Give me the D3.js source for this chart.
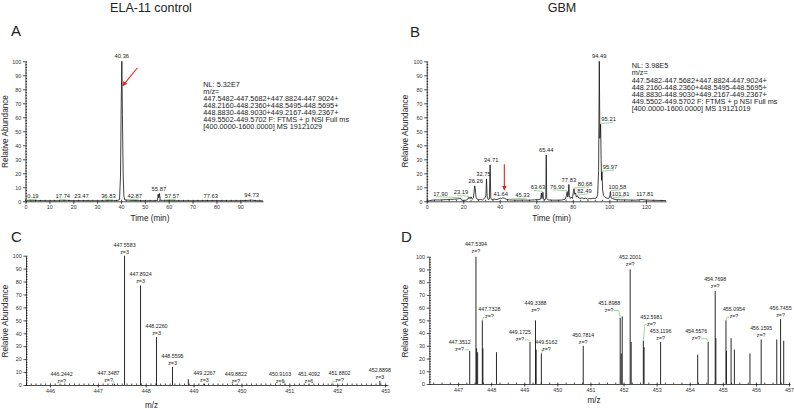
<!DOCTYPE html>
<html>
<head>
<meta charset="utf-8">
<script src="https://cdn.jsdelivr.net/npm/d3@7"></script>
<style>
  body { margin: 0; background: #fff; }
  svg text { font-family: "Liberation Sans", Arial, sans-serif; fill: #222; }
</style>
</head>
<body>
<div id="chart"></div>
<script>
// ---- panel A: ELA-11 control chromatogram
var ctrlTrace = [[0,0.6],[2,0.4],[5,0.5],[10,0.4],[15,0.4],[17.74,0.6],[20,0.4],[23.47,0.5],[28,0.4],[33,0.4],
  [36.83,0.6],[38.5,0.6],[39.4,1.2],[39.8,18],[40.1,70],[40.36,100],[40.6,62],[40.9,20],[41.2,4],[41.6,1],
  [42.87,0.8],[46,0.5],[50,0.4],[54,0.4],[55.3,0.6],[55.6,5.2],[55.87,2.5],[56.15,5.5],[56.45,0.7],[57.57,0.6],
  [62,0.4],[70,0.4],[77.63,0.5],[85,0.4],[90,0.4],[94.73,0.8],[97,0.4],[99.5,0.3]];
var ctrlPeaks = [[0.19,0.3],[17.74,0.3],[23.47,0.3],[36.83,0.3],[40.36,100],[42.87,0.3],[55.87,5.5],[57.57,0.3],[77.63,0.3],[94.73,1.2]];
var ctrlShift = [7,-5,0,-5,0,7,0,9,0,0];
var ctrlNote = ["NL: 5.32E7", "m/z=", "447.5482-447.5682+447.8824-447.9024+", "448.2160-448.2360+448.5495-448.5695+",
  "448.8830-448.9030+449.2167-449.2367+", "449.5502-449.5702 F: FTMS + p NSI Full ms", "[400.0000-1600.0000]  MS 19121029"];

// ---- panel B: GBM chromatogram
var gbmTrace = [[0,0],[1,0.3],[3,0.8],[5,1],[7,0.9],[9,1.1],[11,1.2],[13,1.3],[15,1.5],[17,1.7],[17.9,2],[18.6,2.3],[19.1,0.8],
  [20,0.6],[21.5,0.8],[22.5,1.5],[23.19,3],[23.7,1.8],[24.3,3.2],[24.9,1.5],[25.5,2.2],[25.9,6],[26.26,11],[26.6,9],[27,3],
  [27.6,1.5],[28.5,1],[29.5,1.4],[30.5,0.9],[31.3,1.8],[31.9,2.5],[32.4,4],[32.75,16],[33.1,3],[33.7,1.2],[34.3,1.6],[34.71,26],
  [35.1,2],[35.8,1.2],[37,1.5],[38.5,1.2],[39.5,1.8],[40.5,2.2],[41.2,2],[41.64,2.5],[42.5,2.2],[43.5,1.5],[44.5,1.2],[45.33,1],
  [47,0.9],[50,0.8],[53,0.9],[56,0.8],[59,1],[61,1.2],[62.4,1.5],[62.8,6],[63.1,2],[63.63,6.5],[63.9,1.5],[64.8,1],[65.2,3],
  [65.44,33],[65.7,2],[66.5,1],[69,0.8],[72,0.8],[74,0.9],[75.8,1.5],[76.5,4],[76.9,7],[77.2,3],[77.5,4],[77.83,12],[78.1,4],
  [78.6,2],[79.2,3],[79.8,2],[80.3,7],[80.68,9],[81,5],[81.5,6],[81.9,3],[82.49,4],[83.2,2.5],[84,2],[85,2.5],[86,1.8],[87,2.2],
  [88,1.6],[89,2],[90,1.8],[91,2.2],[92,2],[93,2.5],[93.6,5],[94.1,22],[94.49,100],[94.8,45],[95,50],[95.21,55],[95.5,30],
  [95.7,15],[95.97,21],[96.3,8],[96.8,4],[97.5,3],[98.3,2.5],[99.2,2],[100,2.5],[100.3,4],[100.58,7],[100.9,2.5],[101.4,2],
  [101.81,2],[102.5,1.5],[104,1.2],[106,1],[108,1],[111,0.9],[114,0.8],[116,1],[117.81,1.3],[119,1],[122,0.8],[125,0.7],
  [128,0.6],[131,0.5]];
var gbmPeaks = [[17.90,2],[23.19,3],[26.26,11],[32.75,16],[34.71,26],[41.64,2],[45.33,1],[63.63,6.5],[65.44,33],[76.90,7],
  [77.83,12],[80.68,9],[82.49,4],[94.49,100],[95.21,55],[95.97,21],[100.58,7],[101.81,2],[117.81,1.3]];
var gbmShift = [-19,-8,1,-3,1,-2,13,-5,0,-10,0,11,7,0,8,8,7,8,3];
var gbmNote = ["NL: 3.98E5", "m/z=", "447.5482-447.5682+447.8824-447.9024+", "448.2160-448.2360+448.5495-448.5695+",
  "448.8830-448.9030+449.2167-449.2367+", "449.5502-449.5702 F: FTMS + p NSI Full ms", "[400.0000-1600.0000]  MS 19121019"];

// ---- panel C: control mass spectrum
var ctrlMz = [446.2442,447.3487,447.5583,447.8924,448.2260,448.5595,448.8900,449.2267,449.8822,450.9103,451.4092,451.8802,452.8898];
var ctrlInt = [0.2,0.8,100,77,37,14,4.5,1,0.3,0.3,0.3,0.4,3];
var ctrlZ = ["?","?","3","3","3","3",null,"3","?","6","6","?","3"];
var ctrlMzShift = [0,-6,0,0,0,0,0,0,0,-5,0,8,0];

// ---- panel D: GBM mass spectrum (labelled peaks, then unlabelled ones)
var gbmMz = [447.3512,447.5394,447.7328,449.1725,449.3388,449.5162,450.7814,451.8988,452.2001,452.5981,453.1196,
  454.5576,454.7698,455.0954,456.1595,456.7455];
var gbmInt = [26,100,50,33,50,24,30,52,90,34,33,33,73,50,35,51];
var gbmMzShift = [[-10,2],[0,-2],[7,0],[-10,1],[0,-6],[5,0],[0,0],[-11,-4],[0,-1],[8,-13],[0,0],[-12,0],[0,-1],[8,0],[0,0],[0,0]];
var gbmMinorMz = [447.56,447.59,447.75,448.16,449.36,451.93,451.96,452.23,452.62,454.24,454.79,455.11,455.25,455.35,455.82,456.63,456.84];
var gbmMinorInt = [28,25,28,25,27,24,53,33,29,23,36,26,36,27,24,35,34];

var yTicks = d3.range(0, 101, 10);

var width = 794, height = 409;
var svg = d3.select("#chart").append("svg")
  .attr("width", width).attr("height", height);

var defs = svg.append("defs");
defs.append("marker").attr("id", "redhead")
  .attr("viewBox", "0 0 10 10").attr("refX", 9).attr("refY", 5)
  .attr("markerWidth", 5).attr("markerHeight", 5).attr("markerUnits", "userSpaceOnUse")
  .attr("orient", "auto")
  .append("path").attr("d", "M0,0 L10,5 L0,10 Z").attr("fill", "#e3241c");

function stepRange(dom, step) {
  var a = Math.ceil(dom[0] / step - 1e-9), b = Math.floor(dom[1] / step + 1e-9);
  return d3.range(a, b + 1).map(function(i) { return +(i * step).toFixed(4); });
}

function styleAxis(sel) {
  sel.attr("font-family", "Liberation Sans, Arial, sans-serif").attr("font-size", 5.4);
  sel.selectAll("path, line").attr("stroke", "#000").attr("stroke-width", 0.7);
  sel.selectAll("text").style("fill", "#333");
}

// frame of one panel: scales, axes, titles
function panel(o) {
  var x = d3.scaleLinear().domain(o.xDomain).range([o.left, o.right]);
  var y = d3.scaleLinear().domain([0, 100]).range([o.bottom, o.top]);
  var g = svg.append("g");

  g.append("g").attr("transform", "translate(0," + o.bottom + ")")
    .call(d3.axisBottom(x).tickValues(stepRange(o.xDomain, o.xMinor)).tickSize(-1.5).tickSizeOuter(0).tickFormat(""))
    .call(styleAxis).call(function(a) { a.select(".domain").remove(); });
  g.append("g").attr("transform", "translate(0," + o.bottom + ")")
    .call(d3.axisBottom(x).tickValues(o.xTicks).tickSize(2.5).tickSizeOuter(0).tickPadding(1.5).tickFormat(d3.format("d")))
    .call(styleAxis);

  g.append("g").attr("transform", "translate(" + o.left + ",0)")
    .call(d3.axisLeft(y).tickValues(stepRange([0, 100], 2)).tickSize(-1.5).tickSizeOuter(0).tickFormat(""))
    .call(styleAxis).call(function(a) { a.select(".domain").remove(); });
  g.append("g").attr("transform", "translate(" + o.left + ",0)")
    .call(d3.axisLeft(y).tickValues(yTicks).tickSize(2.5).tickSizeOuter(0).tickPadding(1.8))
    .call(styleAxis);

  g.append("text").attr("transform", "translate(" + o.yTitle[0] + "," + o.yTitle[1] + ") rotate(-90)")
    .attr("text-anchor", "middle").attr("font-size", 8.2).text("Relative Abundance");
  g.append("text").attr("x", o.xTitle[0]).attr("y", o.xTitle[1])
    .attr("text-anchor", "middle").attr("font-size", 8.2).text(o.xLabel);
  g.append("text").attr("x", o.letter[0]).attr("y", o.letter[1])
    .attr("font-family", "Open Sans, sans-serif").attr("font-size", 15).text(o.name);

  return { g: g, x: x, y: y };
}

function chromatogram(p, trace, peaks, shift, note, notePos, arrow) {
  var line = d3.line().x(function(d) { return p.x(d[0]); }).y(function(d) { return p.y(d[1]); });
  p.g.append("path").datum(trace).attr("d", line)
    .attr("fill", "none").attr("stroke", "#111").attr("stroke-width", 0.8).attr("stroke-linejoin", "round");

  peaks.forEach(function(d, i) {
    var px = p.x(d[0]), py = p.y(d[1]), lx = px + shift[i];
    if (Math.abs(shift[i]) > 4) {
      var s = shift[i] > 0 ? 1 : -1;
      p.g.append("line").attr("x1", px).attr("y1", py - 0.8).attr("x2", lx + s * 4).attr("y2", py - 1.8)
        .attr("stroke", "#79c079").attr("stroke-width", 0.7);
    }
    p.g.append("text").attr("x", lx).attr("y", py - 3)
      .attr("text-anchor", "middle").attr("font-size", 5.8).text(d[0].toFixed(2));
  });

  p.g.append("text").attr("x", notePos[0]).attr("y", notePos[1]).attr("font-size", 7.3)
    .selectAll("tspan").data(note).enter().append("tspan")
    .attr("x", notePos[0]).attr("dy", function(d, i) { return i === 0 ? 0 : 7.1; })
    .text(function(d) { return d; });

  p.g.append("line")
    .attr("x1", p.x(arrow[0])).attr("y1", p.y(arrow[1]))
    .attr("x2", p.x(arrow[2])).attr("y2", p.y(arrow[3]))
    .attr("stroke", "#e3241c").attr("stroke-width", 1.1).attr("marker-end", "url(#redhead)");
}

function spectrum(p, mz, inten, zs, shift, minorMz, minorInt) {
  var all = mz.map(function(m, i) { return [m, inten[i]]; })
    .concat(minorMz.map(function(m, i) { return [m, minorInt[i]]; }));
  p.g.selectAll("line.peak").data(all).enter().append("line").attr("class", "peak")
    .attr("x1", function(d) { return p.x(d[0]); }).attr("x2", function(d) { return p.x(d[0]); })
    .attr("y1", p.y(0)).attr("y2", function(d) { return p.y(d[1]); })
    .attr("stroke", "#111").attr("stroke-width", 0.9);

  mz.forEach(function(m, i) {
    if (zs[i] === null) return;
    var dx = shift[i][0], dy = shift[i][1];
    var px = p.x(m), py = p.y(inten[i]), lx = px + dx, ly = py + dy;
    if (dx !== 0) {
      var s = dx > 0 ? -1 : 1;
      p.g.append("polyline")
        .attr("points", [[lx + s * 5, ly - 3.2], [px - s * 1.5, ly - 3.2], [px, py - 0.5]].join(" "))
        .attr("fill", "none").attr("stroke", "#79c079").attr("stroke-width", 0.7);
    }
    p.g.append("text").attr("x", lx).attr("y", ly - 9)
      .attr("text-anchor", "middle").attr("font-size", 5.3).text(m.toFixed(4));
    p.g.append("text").attr("x", lx).attr("y", ly - 2)
      .attr("text-anchor", "middle").attr("font-size", 5.3).text("z=" + zs[i]);
  });
}

// headings
svg.append("text").attr("x", 151).attr("y", 12).attr("text-anchor", "middle")
  .attr("font-family", "Open Sans, sans-serif").attr("font-size", 12.5).text("ELA-11 control");
svg.append("text").attr("x", 562).attr("y", 12).attr("text-anchor", "middle")
  .attr("font-family", "Open Sans, sans-serif").attr("font-size", 12.5).text("GBM");

var pA = panel({ left: 25.5, right: 263, top: 61.3, bottom: 201.3, xDomain: [0, 99.5],
  xTicks: d3.range(0, 91, 10), xMinor: 2, xLabel: "Time (min)", xTitle: [150, 221],
  yTitle: [8.3, 131.5], letter: [11, 36], name: "A" });
chromatogram(pA, ctrlTrace, ctrlPeaks, ctrlShift, ctrlNote, [203.3, 86.8], [46.9, 95.4, 40.7, 82.5]);

var pB = panel({ left: 426.7, right: 666, top: 61.3, bottom: 201.3, xDomain: [0, 131],
  xTicks: d3.range(0, 121, 20), xMinor: 4, xLabel: "Time (min)", xTitle: [551.7, 221],
  yTitle: [408.3, 131], letter: [410, 36.5], name: "B" });
chromatogram(pB, gbmTrace, gbmPeaks, gbmShift, gbmNote, [631.7, 68.3], [42.5, 26.4, 42.5, 8]);

var pC = panel({ left: 26, right: 388, top: 255.7, bottom: 385, xDomain: [445.5, 453.06],
  xTicks: d3.range(446, 454), xMinor: 0.1, xLabel: "m/z", xTitle: [151.6, 407.5],
  yTitle: [8.3, 321], letter: [11, 241.5], name: "C" });
spectrum(pC, ctrlMz, ctrlInt, ctrlZ, ctrlMzShift.map(function(d) { return [d, 0]; }), [], []);

var pD = panel({ left: 429.3, right: 790, top: 256.7, bottom: 384, xDomain: [446.13, 457.03],
  xTicks: d3.range(447, 458), xMinor: 0.25, xLabel: "m/z", xTitle: [594, 402.5],
  yTitle: [408.3, 321], letter: [401, 241.5], name: "D" });
spectrum(pD, gbmMz, gbmInt, gbmMz.map(function() { return "?"; }), gbmMzShift, gbmMinorMz, gbmMinorInt);
</script>
</body>
</html>
